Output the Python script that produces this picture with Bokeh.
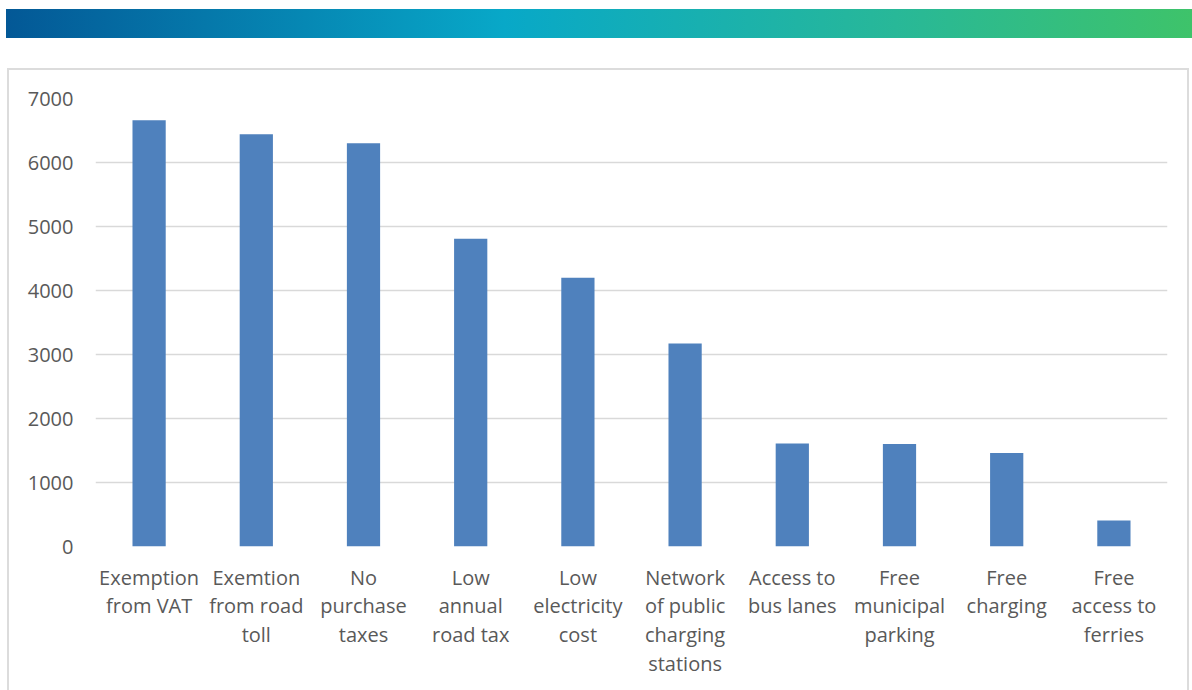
from bokeh.plotting import figure
from bokeh.layouts import column
from bokeh.models import Range1d, FactorRange, ColumnDataSource, Div
from bokeh.embed import file_html
from bokeh.resources import INLINE

categories = ["Exemption\nfrom VAT", "Exemtion\nfrom road\ntoll", "No\npurchase\ntaxes",
              "Low\nannual\nroad tax", "Low\nelectricity\ncost", "Network\nof public\ncharging\nstations",
              "Access to\nbus lanes", "Free\nmunicipal\nparking", "Free\ncharging", "Free\naccess to\nferries"]
values = [6660, 6440, 6300, 4810, 4200, 3170, 1610, 1600, 1460, 405]
y_ticks = [0, 1000, 2000, 3000, 4000, 5000, 6000, 7000]

FONT = "Open Sans"
TEXT = "#595959"

# ---- decorative gradient banner ----
banner = Div(text="", width=1186, height=29, margin=(9, 0, 0, 6),
             styles={"background": "linear-gradient(to right, #035896 0%, #08a8c8 42%, #28b898 75%, #3ec36a 100%)"})

# ---- bar chart ----
src = ColumnDataSource(dict(cat=categories, val=values))
p = figure(width=1182, height=640, x_range=FactorRange(*categories, range_padding=0),
           y_range=Range1d(0, 7000), output_backend="svg", toolbar_location=None,
           min_border_left=86, min_border_right=24, min_border_top=28, min_border_bottom=164,
           margin=(30, 0, 0, 7), styles={"border": "2px solid #dcdcdc"})
p.outline_line_color = None
p.vbar(x="cat", top="val", width=0.31, source=src, fill_color="#4f81bd", line_color=None)

p.yaxis.ticker = y_ticks
p.yaxis.axis_line_color = None
p.yaxis.major_tick_line_color = None
p.yaxis.minor_tick_line_color = None
p.yaxis.major_label_standoff = 16
p.xaxis.axis_line_color = None
p.xaxis.major_tick_line_color = None
p.xaxis.major_label_standoff = 11
p.xaxis.major_label_text_line_height = 1.07
for ax in (p.xaxis, p.yaxis):
    ax.major_label_text_font = FONT
    ax.major_label_text_font_size = "20px"
    ax.major_label_text_color = TEXT
p.xgrid.grid_line_color = None
p.ygrid.grid_line_color = "#d9d9d9"
p.ygrid.grid_line_width = 1.5

layout = column(banner, p, spacing=0)
open("out.html", "w").write(file_html(layout, INLINE))
